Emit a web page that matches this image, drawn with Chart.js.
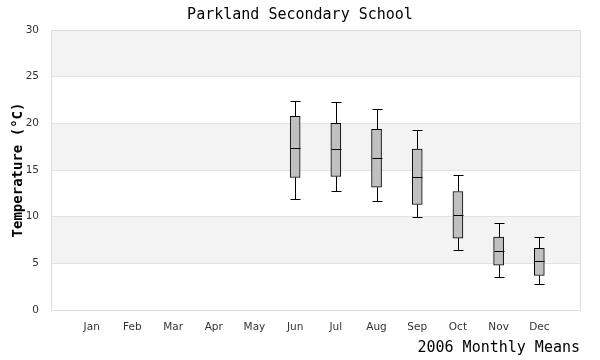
<!DOCTYPE html>
<html>
<head>
<meta charset="utf-8">
<script src="https://cdn.jsdelivr.net/npm/chart.js@4.4.0/dist/chart.umd.min.js"></script>
<style>
  html, body { margin: 0; padding: 0; background: #fff; }
  #wrap { width: 600px; height: 360px; }
</style>
</head>
<body>
<div id="wrap"><canvas id="grafico"></canvas></div>
<script>
// 2006 monthly means, box plot values (degC)
var meses = ['Jan', 'Feb', 'Mar', 'Apr', 'May', 'Jun', 'Jul', 'Aug', 'Sep', 'Oct', 'Nov', 'Dec'];
var minimo  = [null, null, null, null, null, 11.9, 12.75, 11.65, 9.95, 6.45, 3.5, 2.75];
var q1      = [null, null, null, null, null, 14.2, 14.3, 13.15, 11.3, 7.7, 4.8, 3.7];
var mediana = [null, null, null, null, null, 17.4, 17.2, 16.25, 14.2, 10.15, 6.3, 5.25];
var q3      = [null, null, null, null, null, 20.75, 20.0, 19.35, 17.25, 12.7, 7.8, 6.6];
var maximo  = [null, null, null, null, null, 22.4, 22.25, 21.5, 19.3, 14.45, 9.3, 7.8];
var yTicks  = [0, 5, 10, 15, 20, 25, 30];

// blank slot at each end so the months sit inside the frame
var etiquetas = [''].concat(meses, ['']);
function relleno(arr) { return [null].concat(arr, [null]); }

var cajas = relleno(q1.map(function (v, i) { return v == null ? null : [v, q3[i]]; }));

var fondoBandas = {
  id: 'fondoBandas',
  beforeDraw: function (chart) {
    var c = chart.ctx, a = chart.chartArea, y = chart.scales.y;
    c.save();
    c.fillStyle = '#f3f3f3';
    for (var i = 0; i < yTicks.length - 1; i++) {
      if (i % 2 == 1) {
        var t = y.getPixelForValue(yTicks[i + 1]), b = y.getPixelForValue(yTicks[i]);
        c.fillRect(a.left, t, a.right - a.left, b - t);
      }
    }
    c.restore();
  },
  afterDraw: function (chart) {
    var c = chart.ctx, a = chart.chartArea;
    c.save();
    c.strokeStyle = '#dcdcdc';
    c.lineWidth = 1;
    c.strokeRect(Math.round(a.left) + 0.5, Math.round(a.top) + 0.5, Math.round(a.right - a.left), Math.round(a.bottom - a.top));
    c.restore();
  }
};

var bigotes = {
  id: 'bigotes',
  afterDatasetsDraw: function (chart) {
    var c = chart.ctx, y = chart.scales.y;
    var meta = chart.getDatasetMeta(0);
    c.save();
    c.strokeStyle = '#000';
    c.lineWidth = 1;
    for (var i = 0; i < meses.length; i++) {
      if (minimo[i] == null) continue;
      var el = meta.data[i + 1];
      var x = Math.round(el.x) + 0.5;
      var w = 5;
      var pMin = Math.round(y.getPixelForValue(minimo[i])) + 0.5;
      var pQ1 = y.getPixelForValue(q1[i]);
      var pMed = Math.round(y.getPixelForValue(mediana[i])) + 0.5;
      var pQ3 = y.getPixelForValue(q3[i]);
      var pMax = Math.round(y.getPixelForValue(maximo[i])) + 0.5;
      c.beginPath();
      c.moveTo(x, pMax); c.lineTo(x, pQ3);
      c.moveTo(x, pQ1); c.lineTo(x, pMin);
      c.moveTo(x - w, pMax); c.lineTo(x + w, pMax);
      c.moveTo(x - w, pMin); c.lineTo(x + w, pMin);
      c.moveTo(x - w, pMed); c.lineTo(x + w, pMed);
      c.stroke();
    }
    c.restore();
  }
};

var ctx = document.getElementById('grafico').getContext('2d');
var grafico = new Chart(ctx, {
  type: 'bar',
  data: {
    labels: etiquetas,
    datasets: [{
      label: 'Temperatura',
      data: cajas,
      backgroundColor: '#c0c0c0',
      borderColor: '#000000',
      borderWidth: 1,
      borderSkipped: false,
      barThickness: 10
    }]
  },
  options: {
    responsive: true,
    maintainAspectRatio: false,
    animation: false,
    layout: { padding: { left: 20, right: 20, top: 0, bottom: 0 } },
    plugins: {
      legend: { display: false },
      tooltip: { enabled: false },
      title: {
        display: true,
        text: 'Parkland Secondary School',
        color: '#000',
        font: { family: 'DejaVu Sans Mono', size: 15, weight: 'normal' },
        padding: { top: 6, bottom: 6 }
      }
    },
    scales: {
      x: {
        offset: false,
        grid: { display: false },
        border: { display: false },
        ticks: {
          color: '#333',
          font: { family: 'DejaVu Sans', size: 10.5 },
          maxRotation: 0,
          autoSkip: false,
          padding: 3
        },
        title: {
          display: true,
          text: '2006 Monthly Means',
          align: 'end',
          color: '#000',
          font: { family: 'DejaVu Sans Mono', size: 15 },
          padding: { top: 4, bottom: 3 }
        },
        afterFit: function (s) { s.height = 50; }
      },
      y: {
        min: 0,
        max: 30,
        grid: { color: '#e2e2e2', drawTicks: false },
        border: { display: false },
        afterBuildTicks: function (s) { s.ticks = yTicks.map(function (v) { return { value: v }; }); },
        ticks: {
          color: '#333',
          font: { family: 'DejaVu Sans', size: 10.5 },
          padding: 12
        },
        title: {
          display: true,
          text: 'Temperature (°C)',
          color: '#000',
          font: { family: 'DejaVu Sans Mono', size: 14, weight: 'bold' },
          padding: { top: -10, bottom: 0 }
        },
        afterFit: function (s) { s.width = 31; }
      }
    }
  },
  plugins: [fondoBandas, bigotes]
});
</script>
</body>
</html>
